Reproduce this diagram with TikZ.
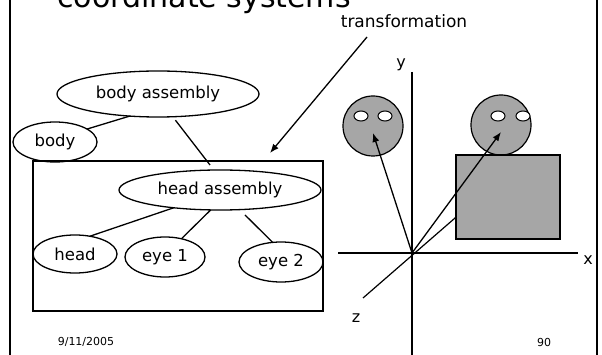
\documentclass[tikz,border=0pt]{standalone}
\usepackage{fontspec}
\setmainfont{DejaVu Sans}
\usetikzlibrary{shapes.geometric,arrows.meta}
\definecolor{facegray}{RGB}{166,166,166}
\begin{document}
\begin{tikzpicture}[x=1pt,y=-1pt,
  part/.style={draw,ellipse,line width=1.3pt,inner sep=0pt,outer sep=0pt,
               font=\fontsize{16.5}{18}\selectfont},
  link/.style={line width=1.3pt},
  ptr/.style={line width=1.3pt,-{Latex[length=9pt,width=7pt]}},
  axis/.style={line width=1.2pt},
  face/.style={draw,fill=facegray,line width=1.2pt},
  eyeball/.style={draw,fill=white,line width=1pt},
  lbl/.style={inner sep=0pt,font=\fontsize{16}{18}\selectfont},
  foot/.style={inner sep=0pt,font=\fontsize{11}{13}\selectfont}]
\useasboundingbox (0,0) rectangle (602,355);
\clip (0,0) rectangle (602,355);

% slide frame
\draw[line width=2.5pt] (10,-5) -- (10,360) (597,-5) -- (597,360);

% title
\node[anchor=base west,inner sep=0pt,font=\fontsize{30}{34}\selectfont] (title) at (57,8) {coordinate systems};

% scene graph
\node[part,minimum width=202pt,minimum height=46pt] (ba) at (158,94) {body assembly};
\node[part,minimum width=84pt,minimum height=40pt] (body) at (55,142) {body};
\node[draw,line width=1.3pt,inner sep=0pt,outer sep=0pt,
      minimum width=290pt,minimum height=150pt] (box) at (178,236) {};
\node[part,minimum width=202pt,minimum height=40pt] (ha) at (220,190) {head assembly};
\node[part,minimum width=84pt,minimum height=38pt] (head) at (75,254) {head};
\node[part,minimum width=80pt,minimum height=40pt] (eye1) at (165,257) {eye 1};
\node[part,minimum width=84pt,minimum height=40pt] (eye2) at (281,262) {eye 2};

\draw[link] (ba.218) -- (body.22);
\draw[link,shorten <=4.3pt,shorten >=6.4pt] (ba.303) -- (ha.107);
\draw[link] (ha.201) -- (head.50);
\draw[link] (ha.245) -- (eye1.48);
\draw[link,shorten <=7.6pt] (ha.315) -- (eye2.113);

% transformation pointer
\node[inner sep=0pt,font=\fontsize{17}{19}\selectfont] (trans) at (404,21) {transformation};
\coordinate (tfrom) at (367,37);
\coordinate (tto) at (270,153);
\draw[ptr] (tfrom) -- (tto);

% world coordinate frame
\coordinate (O) at (412,253);
\coordinate (zend) at (363,298);
\coordinate (zfar) at (470,205);
\draw[axis] (412,72) -- (412,360);
\draw[axis] (338,253) -- (578,253);
\draw[axis] (zend) -- (zfar);
\node[lbl] (ylab) at (401,65) {y};
\node[lbl] (xlab) at (588,260) {x};
\node[lbl] (zlab) at (356,318) {z};

% free head
\draw[face] (373,126) circle[radius=30pt];
\draw[eyeball] (361,116) ellipse[x radius=7pt,y radius=5pt];
\draw[eyeball] (385,116) ellipse[x radius=7pt,y radius=5pt];

% head on body
\draw[face] (501,125) circle[radius=30pt];
\draw[eyeball] (498,116) ellipse[x radius=7pt,y radius=5pt];
\draw[eyeball] (523,116) ellipse[x radius=7pt,y radius=5pt];
\draw[face] (456,155) rectangle (560,239);

% position vectors
\coordinate (p1) at (373,133);
\coordinate (p2) at (501,132);
\draw[ptr] (O) -- (p1);
\draw[ptr] (O) -- (p2);

% footer
\node[foot] (date) at (86,342) {9/11/2005};
\node[foot] (page) at (544,342) {90};
\end{tikzpicture}
\end{document}
